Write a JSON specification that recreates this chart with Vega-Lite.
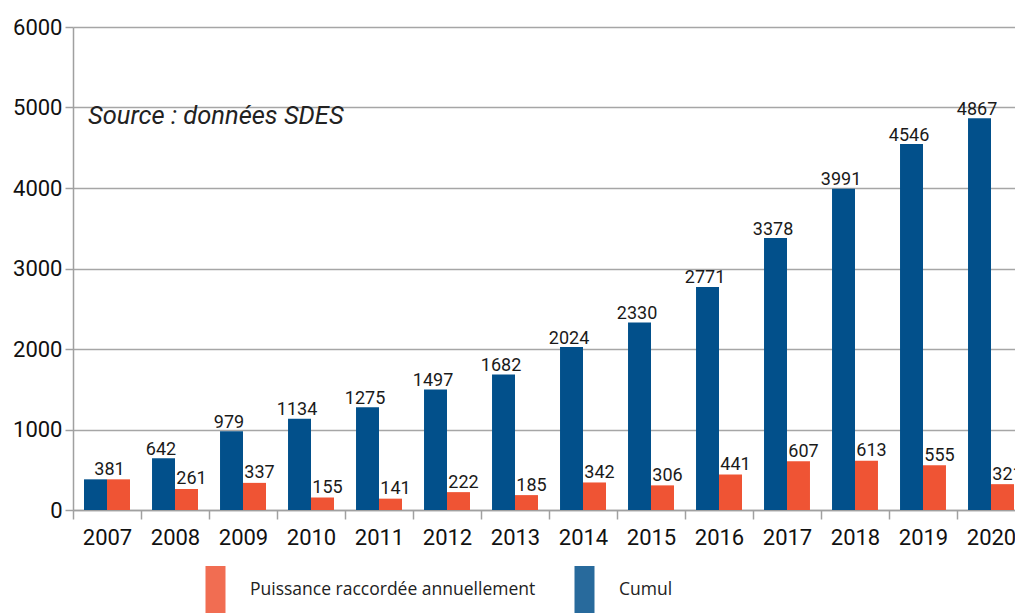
{
  "$schema": "https://vega.github.io/schema/vega-lite/v6.json",
  "autosize": "none",
  "width": 952,
  "height": 483,
  "padding": {"left": 73, "top": 27, "right": 0, "bottom": 103},
  "background": "white",
  "config": {"view": {"stroke": null}, "font": "Roboto"},
  "data": {
    "values": [
      {"annee": "2007", "serie": "Cumul", "valeur": 381},
      {"annee": "2007", "serie": "Puissance raccordée annuellement", "valeur": 381},
      {"annee": "2008", "serie": "Cumul", "valeur": 642},
      {"annee": "2008", "serie": "Puissance raccordée annuellement", "valeur": 261},
      {"annee": "2009", "serie": "Cumul", "valeur": 979},
      {"annee": "2009", "serie": "Puissance raccordée annuellement", "valeur": 337},
      {"annee": "2010", "serie": "Cumul", "valeur": 1134},
      {"annee": "2010", "serie": "Puissance raccordée annuellement", "valeur": 155},
      {"annee": "2011", "serie": "Cumul", "valeur": 1275},
      {"annee": "2011", "serie": "Puissance raccordée annuellement", "valeur": 141},
      {"annee": "2012", "serie": "Cumul", "valeur": 1497},
      {"annee": "2012", "serie": "Puissance raccordée annuellement", "valeur": 222},
      {"annee": "2013", "serie": "Cumul", "valeur": 1682},
      {"annee": "2013", "serie": "Puissance raccordée annuellement", "valeur": 185},
      {"annee": "2014", "serie": "Cumul", "valeur": 2024},
      {"annee": "2014", "serie": "Puissance raccordée annuellement", "valeur": 342},
      {"annee": "2015", "serie": "Cumul", "valeur": 2330},
      {"annee": "2015", "serie": "Puissance raccordée annuellement", "valeur": 306},
      {"annee": "2016", "serie": "Cumul", "valeur": 2771},
      {"annee": "2016", "serie": "Puissance raccordée annuellement", "valeur": 441},
      {"annee": "2017", "serie": "Cumul", "valeur": 3378},
      {"annee": "2017", "serie": "Puissance raccordée annuellement", "valeur": 607},
      {"annee": "2018", "serie": "Cumul", "valeur": 3991},
      {"annee": "2018", "serie": "Puissance raccordée annuellement", "valeur": 613},
      {"annee": "2019", "serie": "Cumul", "valeur": 4546},
      {"annee": "2019", "serie": "Puissance raccordée annuellement", "valeur": 555},
      {"annee": "2020", "serie": "Cumul", "valeur": 4867},
      {"annee": "2020", "serie": "Puissance raccordée annuellement", "valeur": 321}
    ]
  },
  "encoding": {
    "x": {
      "field": "annee",
      "type": "nominal",
      "scale": {"paddingInner": 0, "paddingOuter": 0},
      "axis": {
        "title": null,
        "labelAngle": 0,
        "tickBand": "extent",
        "grid": false,
        "domainColor": "#a0a0a0",
        "domainWidth": 1.5,
        "tickColor": "#a0a0a0",
        "tickWidth": 1.5,
        "tickSize": 9,
        "labelFont": "Roboto",
        "labelFontSize": 22,
        "labelColor": "#111111",
        "labelPadding": 8
      }
    }
  },
  "layer": [
    {
      "mark": {"type": "bar"},
      "encoding": {
        "xOffset": {
          "field": "serie",
          "type": "nominal",
          "scale": {"domain": ["Cumul", "Puissance raccordée annuellement"], "paddingInner": 0, "paddingOuter": 0.48}
        },
        "y": {
          "field": "valeur",
          "type": "quantitative",
          "scale": {"domain": [0, 6000], "nice": false},
          "axis": {
            "title": null,
            "format": "d",
            "values": [0, 1000, 2000, 3000, 4000, 5000, 6000],
            "grid": true,
            "gridColor": "#a6a6a6",
            "gridWidth": 1.5,
            "domainColor": "#a0a0a0",
            "domainWidth": 1.5,
            "tickColor": "#a0a0a0",
            "tickWidth": 1.5,
            "tickSize": 8,
            "labelFont": "Roboto",
            "labelFontSize": 22,
            "labelColor": "#111111",
            "labelPadding": 3
          }
        },
        "color": {
          "field": "serie",
          "type": "nominal",
          "scale": {
            "domain": ["Puissance raccordée annuellement", "Cumul"],
            "range": ["#ef5434", "#02508b"]
          },
          "legend": {
            "title": null,
            "orient": "none",
            "legendX": 119,
            "legendY": 539,
            "direction": "horizontal",
            "padding": 0,
            "symbolType": "M-0.4255,-1H0.4255V1H-0.4255Z",
            "symbolSize": 2209,
            "symbolStrokeWidth": 0,
            "symbolOpacity": 0.85,
            "labelFont": "Open Sans",
            "labelFontSize": 17.5,
            "labelColor": "#222222",
            "labelOffset": 11,
            "columnPadding": 25,
            "labelLimit": 400
          }
        }
      }
    },
    {
      "transform": [{"filter": "datum.annee !== '2007' && datum.serie === 'Cumul'"}],
      "mark": {"type": "text", "baseline": "alphabetic", "dy": -3.5, "dx": -2.5, "fontSize": 18, "font": "Roboto", "color": "#1a1a1a"},
      "encoding": {
        "xOffset": {
          "field": "serie",
          "type": "nominal",
          "scale": {"domain": ["Cumul", "Puissance raccordée annuellement"], "paddingInner": 0, "paddingOuter": 0.48}
        },
        "y": {"field": "valeur", "type": "quantitative"},
        "text": {"field": "valeur", "type": "quantitative"}
      }
    },
    {
      "transform": [{"filter": "datum.annee !== '2007' && datum.serie !== 'Cumul'"}],
      "mark": {"type": "text", "baseline": "alphabetic", "dy": -4.5, "dx": 5, "fontSize": 18, "font": "Roboto", "color": "#1a1a1a"},
      "encoding": {
        "xOffset": {
          "field": "serie",
          "type": "nominal",
          "scale": {"domain": ["Cumul", "Puissance raccordée annuellement"], "paddingInner": 0, "paddingOuter": 0.48}
        },
        "y": {"field": "valeur", "type": "quantitative"},
        "text": {"field": "valeur", "type": "quantitative"}
      }
    },
    {
      "transform": [{"filter": "datum.annee === '2007' && datum.serie === 'Puissance raccordée annuellement'"}],
      "mark": {"type": "text", "baseline": "alphabetic", "dy": -4, "dx": 2.5, "fontSize": 18, "font": "Roboto", "color": "#1a1a1a"},
      "encoding": {
        "y": {"field": "valeur", "type": "quantitative"},
        "text": {"field": "valeur", "type": "quantitative"}
      }
    },
    {
      "data": {"values": [{"annee": "2007", "texte": "Source : données SDES", "valeur": 4800}]},
      "mark": {"type": "text", "align": "left", "baseline": "alphabetic", "dx": -19, "fontSize": 25.5, "fontStyle": "italic", "font": "Roboto", "color": "#222222"},
      "encoding": {
        "y": {"field": "valeur", "type": "quantitative"},
        "text": {"field": "texte", "type": "nominal"}
      }
    }
  ]
}
